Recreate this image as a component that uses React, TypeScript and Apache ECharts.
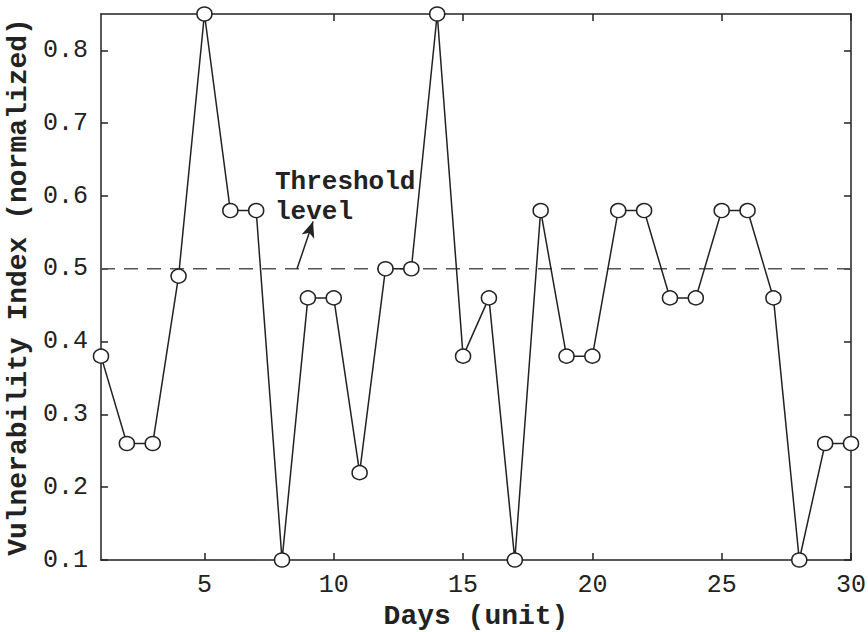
import React, { useEffect, useRef } from "react";
import * as echarts from "echarts";

const days = [1, 2, 3, 4, 5, 6, 7, 8, 9, 10, 11, 12, 13, 14, 15, 16, 17, 18, 19, 20, 21, 22, 23, 24, 25, 26, 27, 28, 29, 30];
const vulnerability = [0.38, 0.26, 0.26, 0.49, 0.85, 0.58, 0.58, 0.1, 0.46, 0.46, 0.22, 0.5, 0.5, 0.85, 0.38, 0.46, 0.1, 0.58, 0.38, 0.38, 0.58, 0.58, 0.46, 0.46, 0.58, 0.58, 0.46, 0.1, 0.26, 0.26];
const thresholdLevel = 0.5;
const xTicks = [5, 10, 15, 20, 25, 30];
const yTicks = [0.1, 0.2, 0.3, 0.4, 0.5, 0.6, 0.7, 0.8];
const arrowFrom = [8.58, 0.5];
const arrowTo = [9.2, 0.565];

const FONT = "'Liberation Mono', 'DejaVu Sans Mono', monospace";
const INK = "#222";

export default function App() {
  const ref = useRef<HTMLDivElement>(null);
  useEffect(() => {
    document.body.style.margin = "0";
    const chart = echarts.init(ref.current!, null, { renderer: "svg" });
    const axisCommon = {
      type: "value" as const,
      axisLine: { show: true, lineStyle: { color: INK, width: 1.5 } },
      splitLine: { show: false },
    };
    chart.setOption({
      animation: false,
      backgroundColor: "#fff",
      grid: { left: 101, right: 17, top: 14, bottom: 72, containLabel: false, outerBoundsMode: "none" },
      xAxis: [
        {
          ...axisCommon,
          min: 1,
          max: 30,
          position: "bottom",
          name: "Days (unit)",
          nameLocation: "middle",
          nameGap: 41,
          nameTextStyle: { fontFamily: FONT, fontWeight: "bold", fontSize: 28, color: INK },
          axisTick: { show: true, inside: true, length: 7, customValues: xTicks, lineStyle: { color: INK, width: 1.5 } },
          axisLabel: { customValues: xTicks, fontFamily: FONT, fontSize: 25, color: INK, margin: 13 },
        },
        {
          ...axisCommon,
          min: 1,
          max: 30,
          position: "top",
          axisTick: { show: true, inside: true, length: 7, customValues: xTicks, lineStyle: { color: INK, width: 1.5 } },
          axisLabel: { show: false },
        },
      ],
      yAxis: [
        {
          ...axisCommon,
          min: 0.1,
          max: 0.85,
          position: "left",
          name: "Vulnerability Index (normalized)",
          nameLocation: "middle",
          nameGap: 64,
          nameRotate: 90,
          nameTextStyle: { fontFamily: FONT, fontWeight: "bold", fontSize: 28, color: INK },
          axisTick: { show: true, inside: true, length: 7, customValues: yTicks, lineStyle: { color: INK, width: 1.5 } },
          axisLabel: { customValues: yTicks, fontFamily: FONT, fontSize: 25, color: INK, margin: 13, formatter: (v: number) => v.toFixed(1) },
        },
        {
          ...axisCommon,
          min: 0.1,
          max: 0.85,
          position: "right",
          axisTick: { show: true, inside: true, length: 7, customValues: yTicks, lineStyle: { color: INK, width: 1.5 } },
          axisLabel: { show: false },
        },
      ],
      series: [
        {
          type: "line",
          data: [
            [days[0], thresholdLevel],
            [days[days.length - 1], thresholdLevel],
          ],
          symbol: "none",
          lineStyle: { color: "#555", width: 1.5, type: [14, 9] },
          silent: true,
          z: 1,
          markLine: {
            silent: true,
            symbol: ["none", "arrow"],
            symbolSize: [10, 16],
            label: { show: false },
            lineStyle: { color: INK, width: 1.5, type: "solid" },
            data: [[{ coord: arrowFrom }, { coord: arrowTo }]],
          },
        },
        {
          type: "line",
          data: days.map((d, i) => [d, vulnerability[i]]),
          symbol: "circle",
          symbolSize: [15, 14],
          clip: false,
          lineStyle: { color: INK, width: 1.5 },
          itemStyle: { color: "#fff", borderColor: INK, borderWidth: 1.5 },
          z: 3,
        },
      ],
      graphic: [
        {
          type: "text",
          left: 275,
          top: 167,
          style: {
            text: "Threshold\nlevel",
            fontFamily: FONT,
            fontWeight: "bold",
            fontSize: 26,
            lineHeight: 30,
            fill: INK,
          },
        },
      ],
    });
    return () => chart.dispose();
  }, []);
  return <div ref={ref} style={{ width: 868, height: 632 }} />;
}
